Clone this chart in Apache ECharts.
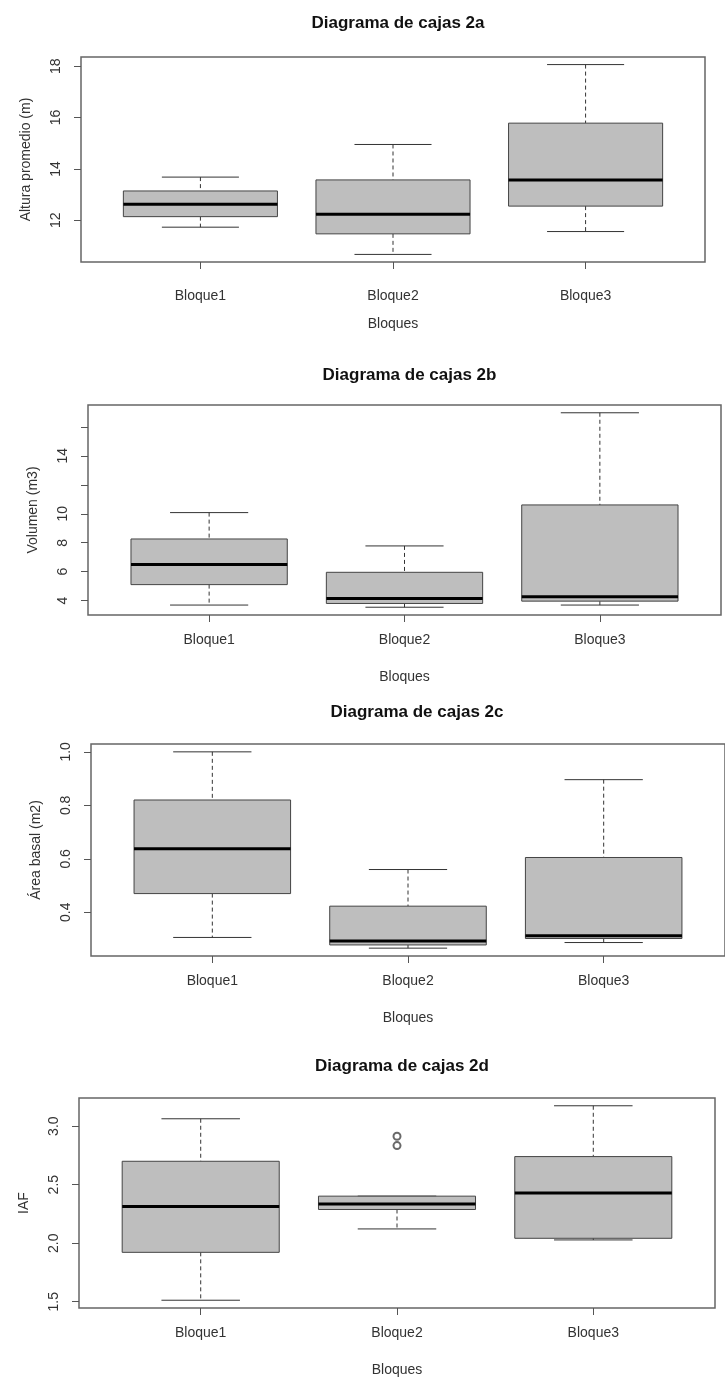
<!DOCTYPE html>
<html>
<head>
<meta charset="utf-8">
<script src="https://cdn.jsdelivr.net/npm/echarts@6/dist/echarts.min.js"></script>
<style>html,body{margin:0;padding:0;background:#fff}#c{width:725px;height:1378px}</style>
</head>
<body>
<div id="c"></div>
<script>
// ---- data ----
const categories = ['Bloque1', 'Bloque2', 'Bloque3'];
const xTitle = 'Bloques';

// [whisker low, Q1, median, Q3, whisker high]
const alturaStats = [[11.73, 12.14, 12.62, 13.14, 13.68], [10.67, 11.47, 12.23, 13.57, 14.95], [11.56, 12.55, 13.57, 15.78, 18.06]];
const alturaOutliers = [];
const alturaTicks = [12, 14, 16, 18];
const alturaTickLabels = [12, 14, 16, 18];

const volumenStats = [[3.70, 5.11, 6.49, 8.26, 10.08], [3.55, 3.81, 4.16, 5.96, 7.78], [3.70, 3.97, 4.28, 10.61, 16.97]];
const volumenOutliers = [];
const volumenTicks = [4, 6, 8, 10, 12, 14, 16];
const volumenTickLabels = [4, 6, 8, 10, 14];

const areaStats = [[0.306, 0.470, 0.638, 0.820, 1.000], [0.266, 0.278, 0.293, 0.423, 0.560], [0.287, 0.302, 0.312, 0.605, 0.896]];
const areaOutliers = [];
const areaTicks = [0.4, 0.6, 0.8, 1.0];
const areaTickLabels = [0.4, 0.6, 0.8, 1.0];

const iafStats = [[1.513, 1.922, 2.314, 2.700, 3.063], [2.122, 2.288, 2.334, 2.402, 2.402], [2.028, 2.042, 2.428, 2.740, 3.174]];
const iafOutliers = [[2, 2.914], [2, 2.834]];
const iafTicks = [1.5, 2.0, 2.5, 3.0];
const iafTickLabels = [1.5, 2.0, 2.5, 3.0];

const panels = [
  { title: 'Diagrama de cajas 2a', yName: 'Altura promedio (m)', stats: alturaStats, outliers: alturaOutliers, ticks: alturaTicks, labels: alturaTickLabels, dec: 0,
    grid: { left: 81, top: 57, width: 624, height: 205 }, titleTop: 10, xMargin: 27, xNameGap: 55 },
  { title: 'Diagrama de cajas 2b', yName: 'Volumen (m3)', stats: volumenStats, outliers: volumenOutliers, ticks: volumenTicks, labels: volumenTickLabels, dec: 0,
    grid: { left: 88, top: 405, width: 633, height: 210 }, titleTop: 362, xMargin: 18, xNameGap: 55 },
  { title: 'Diagrama de cajas 2c', yName: 'Área basal (m2)', stats: areaStats, outliers: areaOutliers, ticks: areaTicks, labels: areaTickLabels, dec: 1,
    grid: { left: 91, top: 744, width: 642, height: 212 }, titleTop: 699, xMargin: 18, xNameGap: 55 },
  { title: 'Diagrama de cajas 2d', yName: 'IAF', stats: iafStats, outliers: iafOutliers, ticks: iafTicks, labels: iafTickLabels, dec: 1,
    grid: { left: 79, top: 1098, width: 636, height: 210 }, titleTop: 1053, xMargin: 18, xNameGap: 55 }
];

const FONT = 'Liberation Sans, Arial, sans-serif';
const option = { backgroundColor: '#fff', animation: false, title: [], grid: [], xAxis: [], yAxis: [], series: [] };

panels.forEach((p, i) => {
  // R-style axis range: data range extended by 4% each side
  let vals = [];
  p.stats.forEach(s => vals.push(...s));
  p.outliers.forEach(o => vals.push(o[1]));
  const lo = Math.min(...vals), hi = Math.max(...vals), r = hi - lo;
  const ymin = lo - 0.04 * r, ymax = hi + 0.04 * r;

  option.title.push({
    text: p.title, left: p.grid.left + p.grid.width / 2, top: p.titleTop, textAlign: 'center',
    textStyle: { fontFamily: FONT, fontSize: 17, fontWeight: 'bold', color: '#111' }
  });
  option.grid.push({ left: p.grid.left, top: p.grid.top, width: p.grid.width, height: p.grid.height,
    show: true, borderColor: '#666', borderWidth: 1.5, backgroundColor: 'transparent', containLabel: false });
  option.xAxis.push({
    type: 'value', gridIndex: i, min: 0.38, max: 3.62,
    name: xTitle, nameLocation: 'middle', nameGap: p.xNameGap,
    nameTextStyle: { fontFamily: FONT, fontSize: 14, color: '#333' },
    axisLine: { show: false },
    splitLine: { show: false },
    axisTick: { show: true, length: 7, customValues: [1, 2, 3], lineStyle: { color: '#555', width: 1 } },
    axisLabel: { customValues: [1, 2, 3], margin: p.xMargin, fontFamily: FONT, fontSize: 14, color: '#333',
      formatter: v => categories[Math.round(v) - 1] || '' }
  });
  option.yAxis.push({
    type: 'value', gridIndex: i, min: ymin, max: ymax,
    name: p.yName, nameLocation: 'middle', nameGap: 48, nameRotate: 90,
    nameTextStyle: { fontFamily: FONT, fontSize: 14, color: '#333' },
    axisLine: { show: false },
    splitLine: { show: false },
    axisTick: { show: true, length: 7, customValues: p.ticks, lineStyle: { color: '#555', width: 1 } },
    axisLabel: { customValues: p.labels, rotate: 90, margin: 18, fontFamily: FONT, fontSize: 14, color: '#333',
      formatter: v => Number(v).toFixed(p.dec) }
  });
  option.series.push({
    type: 'custom', xAxisIndex: i, yAxisIndex: i,
    data: p.stats.map((s, k) => [k + 1, s[0], s[1], s[2], s[3], s[4]]),
    encode: { x: 0, y: [1, 2, 3, 4, 5] },
    renderItem: function (params, api) {
      const x = api.value(0);
      const pLo = api.coord([x, api.value(1)]);
      const pQ1 = api.coord([x, api.value(2)]);
      const pMed = api.coord([x, api.value(3)]);
      const pQ3 = api.coord([x, api.value(4)]);
      const pHi = api.coord([x, api.value(5)]);
      const bw = api.size([0.8, 0])[0];
      const cw = bw / 2;
      const cx = pMed[0];
      const dash = { stroke: '#333', lineWidth: 1, lineDash: [4, 3] };
      const solid = { stroke: '#333', lineWidth: 1 };
      return {
        type: 'group',
        children: [
          { type: 'line', shape: { x1: cx, y1: pHi[1], x2: cx, y2: pQ3[1] }, style: dash },
          { type: 'line', shape: { x1: cx, y1: pQ1[1], x2: cx, y2: pLo[1] }, style: dash },
          { type: 'line', shape: { x1: cx - cw / 2, y1: pHi[1], x2: cx + cw / 2, y2: pHi[1] }, style: solid },
          { type: 'line', shape: { x1: cx - cw / 2, y1: pLo[1], x2: cx + cw / 2, y2: pLo[1] }, style: solid },
          { type: 'rect', shape: { x: cx - bw / 2, y: pQ3[1], width: bw, height: pQ1[1] - pQ3[1] },
            style: { fill: '#bebebe', stroke: '#444', lineWidth: 1 } },
          { type: 'line', shape: { x1: cx - bw / 2, y1: pMed[1], x2: cx + bw / 2, y2: pMed[1] },
            style: { stroke: '#000', lineWidth: 3 } }
        ]
      };
    }
  });
  if (p.outliers.length) {
    option.series.push({
      type: 'scatter', xAxisIndex: i, yAxisIndex: i, data: p.outliers,
      symbol: 'emptyCircle', symbolSize: 7, z: 5,
      itemStyle: { color: '#444', borderColor: '#444', borderWidth: 1 }
    });
  }
});

const chart = echarts.init(document.getElementById('c'), null, { renderer: 'canvas' });
chart.setOption(option);
</script>
</body>
</html>
